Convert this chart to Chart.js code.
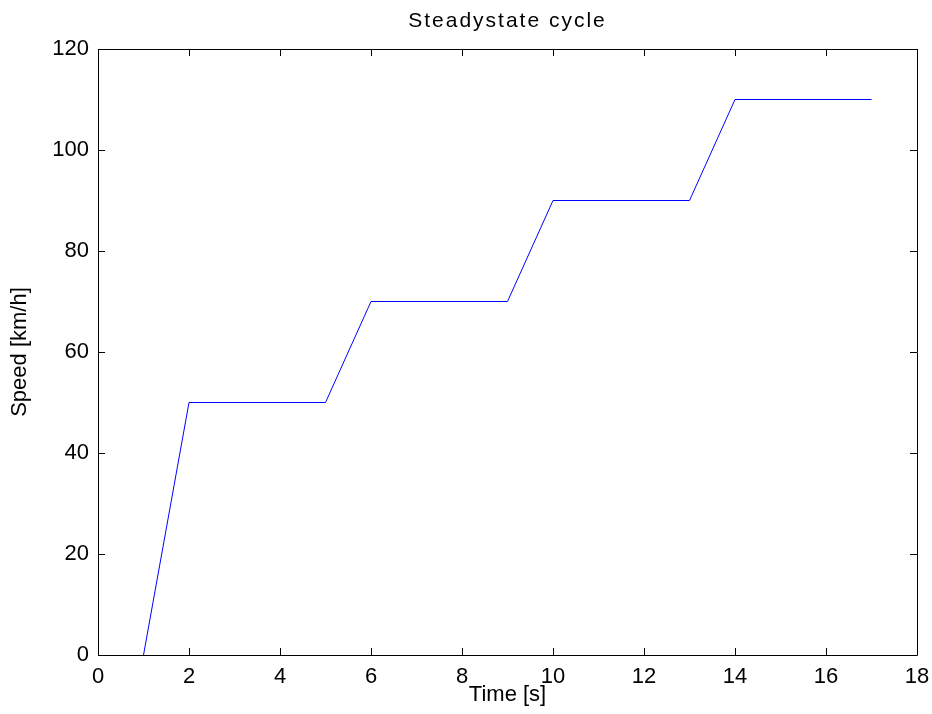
<!DOCTYPE html>
<html>
<head>
<meta charset="utf-8">
<title>Steadystate cycle</title>
<script src="https://cdn.jsdelivr.net/npm/chart.js@4/dist/chart.umd.min.js"></script>
<style>
  html, body { margin: 0; padding: 0; background: #fff; }
  canvas { display: block; }
</style>
</head>
<body>
<canvas id="cycleChart" width="932" height="714"></canvas>
<script>
// Steadystate cycle - speed vs time
const timeValues = [1, 2, 5, 6, 9, 10, 13, 14, 17];
const speedValues = [0, 50, 50, 70, 70, 90, 90, 110, 110];
const xTicks = [0, 2, 4, 6, 8, 10, 12, 14, 16, 18];
const yTicks = [0, 20, 40, 60, 80, 100, 120];

const FONT = "'Liberation Sans', Arial, Helvetica, sans-serif";

// MATLAB style box with inward ticks on all four sides, plus the title
const boxPlugin = {
  id: 'matlabBox',
  afterDraw(chart) {
    const ctx = chart.ctx;
    const area = chart.chartArea;
    const xs = chart.scales.x;
    const ys = chart.scales.y;
    const tick = 7;
    ctx.save();
    ctx.strokeStyle = '#000';
    ctx.lineWidth = 1;
    ctx.beginPath();
    ctx.rect(Math.round(area.left) + 0.5, Math.round(area.top) + 0.5,
      Math.round(area.right - area.left), Math.round(area.bottom - area.top));
    xTicks.forEach(v => {
      const px = Math.round(xs.getPixelForValue(v)) + 0.5;
      ctx.moveTo(px, area.bottom);
      ctx.lineTo(px, area.bottom - tick);
      ctx.moveTo(px, area.top);
      ctx.lineTo(px, area.top + tick);
    });
    yTicks.forEach(v => {
      const py = Math.round(ys.getPixelForValue(v)) + 0.5;
      ctx.moveTo(area.left, py);
      ctx.lineTo(area.left + tick, py);
      ctx.moveTo(area.right, py);
      ctx.lineTo(area.right - tick, py);
    });
    ctx.stroke();

    // title
    ctx.fillStyle = '#000';
    ctx.font = '21px ' + FONT;
    ctx.textAlign = 'center';
    ctx.textBaseline = 'middle';
    if ('letterSpacing' in ctx) ctx.letterSpacing = '2px';
    ctx.fillText('Steadystate cycle', (area.left + area.right) / 2, 21);
    ctx.restore();
  }
};

const ctx = document.getElementById('cycleChart').getContext('2d');
new Chart(ctx, {
  type: 'scatter',
  data: {
    datasets: [{
      label: 'Speed',
      data: timeValues.map((t, i) => ({ x: t, y: speedValues[i] })),
      showLine: true,
      borderColor: '#0000ff',
      borderWidth: 1,
      pointRadius: 0,
      tension: 0,
      fill: false
    }]
  },
  options: {
    responsive: false,
    animation: false,
    devicePixelRatio: 1,
    layout: {
      padding: { top: 49, right: 15, left: 0, bottom: 0 }
    },
    plugins: {
      legend: { display: false },
      title: { display: false },
      tooltip: { enabled: false }
    },
    scales: {
      x: {
        type: 'linear',
        position: 'bottom',
        min: 0,
        max: 18,
        afterBuildTicks: scale => { scale.ticks = xTicks.map(v => ({ value: v })); },
        afterFit: scale => {
          scale.height = 59;
          scale.paddingLeft = 0;
          scale.paddingRight = 0;
        },
        grid: { display: false, drawTicks: false },
        border: { display: false },
        ticks: {
          autoSkip: false,
          maxRotation: 0,
          padding: 9,
          color: '#000',
          font: { family: FONT, size: 22 }
        },
        title: {
          display: true,
          text: 'Time [s]',
          color: '#000',
          font: { family: FONT, size: 22, lineHeight: 1 },
          padding: { top: 0, bottom: 8 }
        }
      },
      y: {
        type: 'linear',
        position: 'left',
        min: 0,
        max: 120,
        afterBuildTicks: scale => { scale.ticks = yTicks.map(v => ({ value: v })); },
        afterFit: scale => {
          scale.width = 98;
          scale.paddingTop = 0;
          scale.paddingBottom = 0;
        },
        grid: { display: false, drawTicks: false },
        border: { display: false },
        ticks: {
          autoSkip: false,
          padding: 9,
          color: '#000',
          font: { family: FONT, size: 22 }
        },
        title: {
          display: true,
          text: 'Speed [km/h]',
          color: '#000',
          font: { family: FONT, size: 22, lineHeight: 1 },
          padding: { top: 9, bottom: 0 }
        }
      }
    }
  },
  plugins: [boxPlugin]
});
</script>
</body>
</html>
